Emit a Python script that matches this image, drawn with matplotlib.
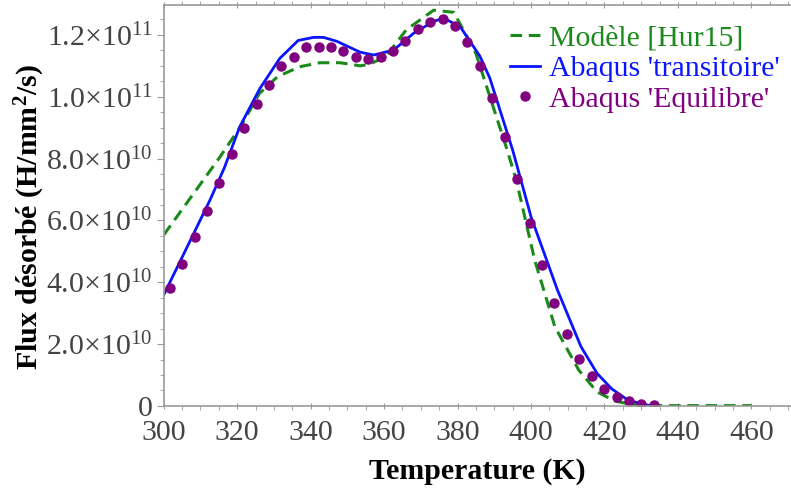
import numpy as np
import matplotlib.pyplot as plt
from matplotlib.ticker import MultipleLocator, FuncFormatter

plt.rcParams['font.family'] = ['Liberation Serif', 'DejaVu Serif']
plt.rcParams['mathtext.fontset'] = 'custom'
plt.rcParams['mathtext.rm'] = 'Liberation Serif'
plt.rcParams['mathtext.it'] = 'Liberation Serif:italic'
plt.rcParams['mathtext.bf'] = 'Liberation Serif:bold'

# modele [Hur15] (tirets verts)
t_mod = [300, 315, 321, 326, 331, 337, 342.5, 348, 353.5, 356, 360.5, 366, 373.5,
         379, 385, 393.5, 396, 401, 406.5, 413, 418, 423, 428, 432, 460]
f_mod = [55.3, 80, 90.5, 101, 106.5, 109.7, 111, 111, 110, 110.5, 113, 121.6, 128,
         127.3, 114, 82.8, 73, 47.2, 25.6, 11.6, 4.5, 1.5, 0.4, 0.1, 0.1]

# abaqus transitoire (ligne bleue)
t_tr = [300, 306, 312.6, 316.5, 320.7, 326.2, 331.6, 336.6, 340.8, 343.5, 347.2, 353.5,
        357.2, 362.6, 368, 373.5, 376.2, 380.7, 386.1, 388.8, 395, 400, 407.2, 413.6,
        418, 422, 426, 430, 432]
f_tr = [35.9, 50.5, 66.6, 77, 90.3, 102.7, 112.4, 118.2, 119.2, 119.2, 117.9, 114.4,
        113.5, 115.1, 120.5, 124.4, 125.4, 122.7, 113.1, 106, 82.8, 61.2, 37.5, 19.2,
        10.5, 5.5, 2.2, 0.6, 0.2]

# abaqus equilibre (points violets)
t_eq = [301.6, 305.0, 308.4, 311.7, 315.1, 318.5, 321.9, 325.3, 328.6, 332.0,
        335.4, 338.8, 342.2, 345.5, 348.9, 352.3, 355.7, 359.1, 362.4, 365.8,
        369.2, 372.6, 376.0, 379.3, 382.7, 386.1, 389.5, 392.9, 396.2, 399.6,
        403.0, 406.4, 409.8, 413.1, 416.5, 419.9, 423.3, 426.7, 430.0, 433.4]
f_eq = [38.0, 46, 54.5, 63, 72.2, 81.4, 89.8, 97.6, 103.8, 110,
        113, 116, 116, 116, 114.9, 113, 112.1, 113, 114.9, 118,
        121.9, 124.1, 125, 122.9, 117.8, 110, 99.7, 87, 73.3, 59.3,
        45.6, 33.4, 23.4, 15.3, 9.7, 5.5, 3.0, 1.5, 0.7, 0.3]

e9 = 1e9
fig = plt.figure(figsize=(7.91, 4.92), dpi=100)
ax = fig.add_axes([0.207, 0.175, 0.793, 0.815])

ax.plot(t_mod, np.array(f_mod) * e9, color='#1a8a1a', lw=2.2, ls=(0, (3.8, 2.2)),
        label='Modèle [Hur15]')
ax.plot(t_tr, np.array(f_tr) * e9, color='#0a14ff', lw=2.0, label="Abaqus 'transitoire'")
ax.plot(t_eq, np.array(f_eq) * e9, ls='none', marker='o', ms=6.5, color='#800080',
        label="Abaqus 'Equilibre'")

ax.set_xlim(300, 470.8)
ax.set_ylim(0, 1.297e11)
ax.xaxis.set_major_locator(MultipleLocator(20))
ax.xaxis.set_minor_locator(MultipleLocator(5))
ax.yaxis.set_major_locator(MultipleLocator(2e10))
ax.yaxis.set_minor_locator(MultipleLocator(5e9))


def fmt_y(v, pos):
    if abs(v) < 1:
        return '0'
    if v < 0:
        return ''
    e = int(np.floor(np.log10(v)))
    m = v / 10 ** e
    return r'$\mathrm{%.1f{\times}10^{%d}}$' % (m, e)


ax.yaxis.set_major_formatter(FuncFormatter(fmt_y))

ax.spines['right'].set_visible(False)
for s in ['left', 'bottom', 'top']:
    ax.spines[s].set_color('#999999')
    ax.spines[s].set_linewidth(1.2)

ax.tick_params(axis='both', which='both', color='#999999', labelcolor='#444444',
               labelsize=21.5)
ax.tick_params(axis='x', which='major', length=4, top=True, direction='inout')
ax.tick_params(axis='x', which='minor', length=3, top=True, direction='out')
ax.tick_params(axis='y', which='major', length=5)
ax.tick_params(axis='y', which='minor', length=3)
ax.tick_params(axis='x', pad=8.5)
ax.tick_params(axis='y', pad=3)

ax.set_xlabel('Temperature (K)', fontsize=21.5, fontweight='bold', labelpad=8)
ax.set_ylabel('Flux désorbé (H/mm$^{\\mathbf{2}}$/s)', fontsize=21.5,
              fontweight='bold')
ax.yaxis.set_label_coords(-0.186, 0.47)

leg = ax.legend(loc='upper right', frameon=False, fontsize=21.5, handlelength=1.0,
                handletextpad=0.3, labelspacing=0.12, borderaxespad=0.2,
                bbox_to_anchor=(1.01, 0.995))
for txt, line in zip(leg.get_texts(), leg.get_lines()):
    txt.set_color(line.get_color() if line.get_linestyle() != 'None'
                  else line.get_markerfacecolor())

fig.savefig('out.png', dpi=100)
